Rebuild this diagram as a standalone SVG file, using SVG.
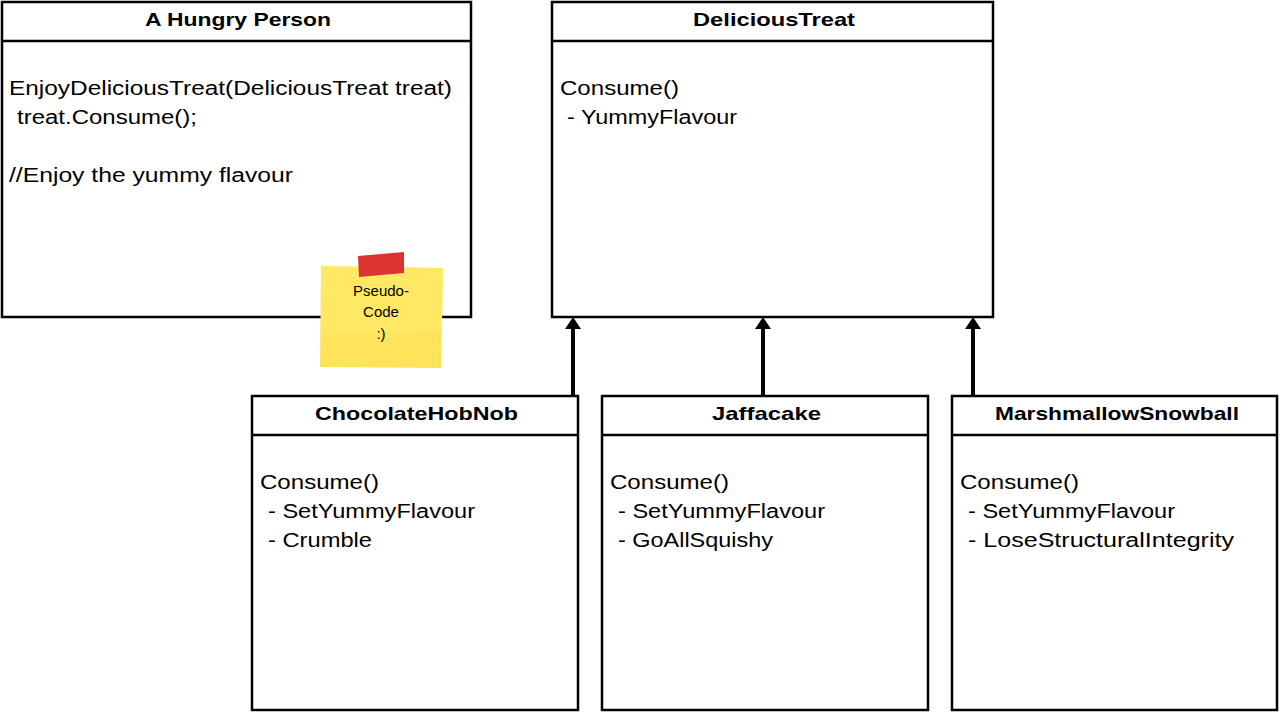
<svg xmlns="http://www.w3.org/2000/svg" width="1280" height="713" viewBox="0 0 1280 713">
<style>
.box{fill:#fff;stroke:#000;stroke-width:2.5}
.hdr{font-family:"Liberation Sans",Arial,sans-serif;font-weight:bold;font-size:19px;fill:#000}
.txt{font-family:"Liberation Sans",Arial,sans-serif;font-size:20px;fill:#000}
.note{font-family:"Liberation Sans",Arial,sans-serif;font-size:15px;fill:#000;text-anchor:middle}
.conn{stroke:#000;stroke-width:4;fill:none}
.head{fill:#000}
</style>
<rect width="1280" height="713" fill="#fff"/>
<g id="hungry-person">
<rect class="box" x="2" y="2" width="469" height="315"/>
<line class="box" x1="2" y1="41" x2="471" y2="41"/>
<text class="hdr" x="145" y="26" textLength="186" lengthAdjust="spacingAndGlyphs">A Hungry Person</text>
<text class="txt" x="9" y="95" textLength="443" lengthAdjust="spacingAndGlyphs">EnjoyDeliciousTreat(DeliciousTreat treat)</text>
<text class="txt" x="17" y="124" textLength="180" lengthAdjust="spacingAndGlyphs">treat.Consume();</text>
<text class="txt" x="9" y="182" textLength="284" lengthAdjust="spacingAndGlyphs">//Enjoy the yummy flavour</text>
</g>
<g id="sticky-note">
<polygon points="321,266 443,268 441,368 320,367" fill="#ffe35a"/>
<polygon points="321,266 443,268 442,330 321,335" fill="#fff06e" opacity="0.5"/>
<polygon points="358,256 404,252 404,273 359,277" fill="#dc3232"/>
<text class="note" x="381" y="296">Pseudo-</text>
<text class="note" x="381" y="317">Code</text>
<text class="note" x="381" y="339">:)</text>
</g>
<g id="delicious-treat">
<rect class="box" x="552" y="2" width="441" height="315"/>
<line class="box" x1="552" y1="41" x2="993" y2="41"/>
<text class="hdr" x="693" y="26" textLength="162" lengthAdjust="spacingAndGlyphs">DeliciousTreat</text>
<text class="txt" x="560" y="95" textLength="119" lengthAdjust="spacingAndGlyphs">Consume()</text>
<text class="txt" x="567" y="124" textLength="170" lengthAdjust="spacingAndGlyphs">- YummyFlavour</text>
</g>
<g id="chocolate-hobnob">
<rect class="box" x="252" y="396" width="326" height="314"/>
<line class="box" x1="252" y1="435" x2="578" y2="435"/>
<text class="hdr" x="315" y="420" textLength="203" lengthAdjust="spacingAndGlyphs">ChocolateHobNob</text>
<text class="txt" x="260" y="489" textLength="119" lengthAdjust="spacingAndGlyphs">Consume()</text>
<text class="txt" x="268" y="518" textLength="207" lengthAdjust="spacingAndGlyphs">- SetYummyFlavour</text>
<text class="txt" x="268" y="547" textLength="104" lengthAdjust="spacingAndGlyphs">- Crumble</text>
</g>
<g id="jaffacake">
<rect class="box" x="602" y="396" width="326" height="314"/>
<line class="box" x1="602" y1="435" x2="928" y2="435"/>
<text class="hdr" x="712" y="420" textLength="109" lengthAdjust="spacingAndGlyphs">Jaffacake</text>
<text class="txt" x="610" y="489" textLength="119" lengthAdjust="spacingAndGlyphs">Consume()</text>
<text class="txt" x="618" y="518" textLength="207" lengthAdjust="spacingAndGlyphs">- SetYummyFlavour</text>
<text class="txt" x="618" y="547" textLength="155" lengthAdjust="spacingAndGlyphs">- GoAllSquishy</text>
</g>
<g id="marshmallow-snowball">
<rect class="box" x="952" y="396" width="325" height="314"/>
<line class="box" x1="952" y1="435" x2="1277" y2="435"/>
<text class="hdr" x="995" y="420" textLength="244" lengthAdjust="spacingAndGlyphs">MarshmallowSnowball</text>
<text class="txt" x="960" y="489" textLength="119" lengthAdjust="spacingAndGlyphs">Consume()</text>
<text class="txt" x="968" y="518" textLength="207" lengthAdjust="spacingAndGlyphs">- SetYummyFlavour</text>
<text class="txt" x="968" y="547" textLength="266" lengthAdjust="spacingAndGlyphs">- LoseStructuralIntegrity</text>
</g>
<g id="connectors">
<line class="conn" x1="573" y1="396" x2="573" y2="322"/>
<polygon class="head" points="573,317 565,329 581,329"/>
<line class="conn" x1="763" y1="396" x2="763" y2="322"/>
<polygon class="head" points="763,317 755,329 771,329"/>
<line class="conn" x1="973" y1="396" x2="973" y2="322"/>
<polygon class="head" points="973,317 965,329 981,329"/>
</g>
</svg>
